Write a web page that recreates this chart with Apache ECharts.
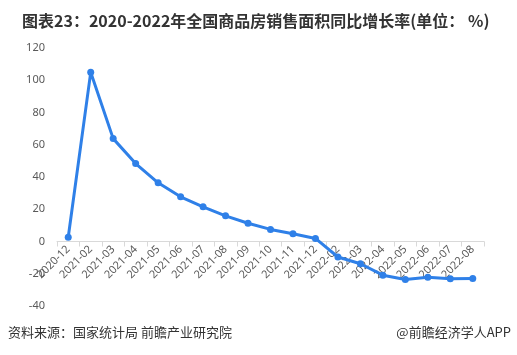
<!DOCTYPE html>
<html><head><meta charset="utf-8">
<script src="https://cdn.jsdelivr.net/npm/echarts@6/dist/echarts.min.js"></script>
<style>html,body{margin:0;padding:0;background:#fff}#c{width:517px;height:355px}</style>
</head><body><div id="c"></div>
<script>
var categories = ['2020-12','2021-02','2021-03','2021-04','2021-05','2021-06','2021-07','2021-08','2021-09','2021-10','2021-11','2021-12','2022-02','2022-03','2022-04','2022-05','2022-06','2022-07','2022-08'];
var growth = [2.6,104.9,63.8,48.3,36.4,27.7,21.5,15.9,11.3,7.5,4.8,1.9,-9.6,-13.8,-20.9,-23.6,-22.2,-23.1,-23.0];
var yTicks = {min:-40, max:120, interval:20};
var titleText = '图表23：2020-2022年全国商品房销售面积同比增长率(单位： %)';
var sourceText = '资料来源：国家统计局 前瞻产业研究院';
var brandText = '@前瞻经济学人APP';

var gridTop = 48, gridBottom = 49, H = 355;
var plotH = H - gridTop - gridBottom;
var zeroOffset = -plotH * (0 - yTicks.min) / (yTicks.max - yTicks.min);

var chart = echarts.init(document.getElementById('c'));
chart.setOption({
  animation:false,
  backgroundColor:'#fff',
  title:{text:titleText,left:22,top:13,padding:0,textStyle:{fontSize:16,fontWeight:'bold',color:'#333',fontFamily:'Noto Sans CJK SC'}},
  graphic:[
    {type:'text',left:8,top:326,style:{text:sourceText,fontSize:13,fill:'#333',fontFamily:'Noto Sans CJK SC'}},
    {type:'text',right:6,top:326,style:{text:brandText,fontSize:13,fill:'#333',fontFamily:'Noto Sans CJK SC'}}
  ],
  grid:{left:57,right:33,top:gridTop,bottom:gridBottom},
  xAxis:{type:'category',data:categories,boundaryGap:true,offset:zeroOffset,
    axisLine:{onZero:false,lineStyle:{color:'#d9d9d9',width:1}},
    axisTick:{show:true,length:5,lineStyle:{color:'#d9d9d9'}},
    axisLabel:{rotate:45,fontSize:11,color:'#595959',interval:0,margin:6,fontFamily:'Noto Sans'}},
  yAxis:{type:'value',min:yTicks.min,max:yTicks.max,interval:yTicks.interval,
    axisLine:{show:false},axisTick:{show:false},splitLine:{show:false},
    axisLabel:{fontSize:11,color:'#595959',margin:12,fontFamily:'Noto Sans'}},
  series:[{type:'line',data:growth,symbol:'circle',symbolSize:7,z:3,
    lineStyle:{color:'#2f80e8',width:3},itemStyle:{color:'#2f80e8'}}]
});
</script></body></html>
